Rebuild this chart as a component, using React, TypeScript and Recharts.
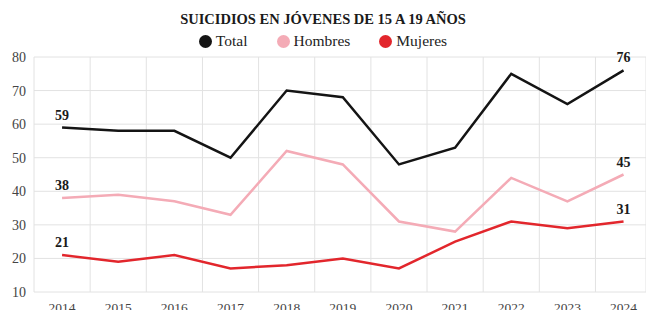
import React from "react";
import { LineChart, Line, XAxis, YAxis, CartesianGrid, LabelList } from "recharts";

const years = [2014, 2015, 2016, 2017, 2018, 2019, 2020, 2021, 2022, 2023, 2024];
const total = [59, 58, 58, 50, 70, 68, 48, 53, 75, 66, 76];
const hombres = [38, 39, 37, 33, 52, 48, 31, 28, 44, 37, 45];
const mujeres = [21, 19, 21, 17, 18, 20, 17, 25, 31, 29, 31];
const yTicks = [10, 20, 30, 40, 50, 60, 70, 80];
const gridYears = [2013.5, 2014.5, 2015.5, 2016.5, 2017.5, 2018.5, 2019.5, 2020.5, 2021.5, 2022.5, 2023.5];

const title = "SUICIDIOS EN JÓVENES DE 15 A 19 AÑOS";
const series = [
  { key: "total", name: "Total", color: "#141414" },
  { key: "hombres", name: "Hombres", color: "#f4abb6" },
  { key: "mujeres", name: "Mujeres", color: "#e2262c" },
];

const data = years.map((y, i) => ({ year: y, total: total[i], hombres: hombres[i], mujeres: mujeres[i] }));

const FONT = "'Liberation Serif', 'DejaVu Serif', serif";

const EndLabel = (props: any) => {
  const { x, y, value, index } = props;
  if (index !== 0 && index !== years.length - 1) return null;
  return (
    <text x={x} y={y - 8} textAnchor="middle" fontFamily={FONT} fontWeight="bold" fontSize={14} fill="#1a1a1a">
      {value}
    </text>
  );
};

export default function App() {
  return (
    <div style={{ position: "absolute", left: 0, top: 0, width: 646, height: 310, overflow: "hidden", background: "#fff" }}>
      <div
        style={{
          position: "absolute",
          top: 10,
          left: 0,
          width: 646,
          textAlign: "center",
          fontFamily: FONT,
          fontWeight: "bold",
          fontSize: 14.5,
          color: "#1a1a1a",
          lineHeight: "18px",
        }}
      >
        {title}
      </div>
      <div
        style={{
          position: "absolute",
          top: 32,
          left: 0,
          width: 646,
          display: "flex",
          justifyContent: "center",
          fontFamily: FONT,
          fontSize: 15.5,
          color: "#222",
          lineHeight: "18px",
        }}
      >
        {series.map((s, i) => (
          <div key={s.key} style={{ display: "flex", alignItems: "center", marginLeft: i === 0 ? 0 : 29 }}>
            <span style={{ width: 13, height: 13, borderRadius: "50%", background: s.color, display: "inline-block", marginRight: 4 }} />
            <span>{s.name}</span>
          </div>
        ))}
      </div>
      <LineChart width={646} height={310} data={data} margin={{ top: 57, right: 0, bottom: 0, left: 0 }}>
        <XAxis xAxisId="grid" type="number" dataKey="year" domain={[2013.5, 2024.4]} ticks={gridYears} hide height={0} />
        <CartesianGrid xAxisId="grid" stroke="#e2e2e2" strokeWidth={1} />
        <XAxis
          type="number"
          dataKey="year"
          domain={[2013.5, 2024.4]}
          ticks={years}
          height={18}
          axisLine={false}
          tickLine={false}
          tickSize={0}
          tickMargin={10}
          interval={0}
          tick={{ fontFamily: FONT, fontSize: 13.5, fill: "#444" }}
        />
        <YAxis
          domain={[10, 80]}
          ticks={yTicks}
          width={34}
          axisLine={false}
          tickLine={false}
          tickSize={0}
          tickMargin={8}
          interval={0}
          tick={{ fontFamily: FONT, fontSize: 14, fill: "#444" }}
        />
        {series.map((s) => (
          <Line
            key={s.key}
            dataKey={s.key}
            stroke={s.color}
            strokeWidth={2.5}
            dot={false}
            activeDot={false}
            isAnimationActive={false}
          >
            <LabelList dataKey={s.key} content={EndLabel} />
          </Line>
        ))}
      </LineChart>
    </div>
  );
}
